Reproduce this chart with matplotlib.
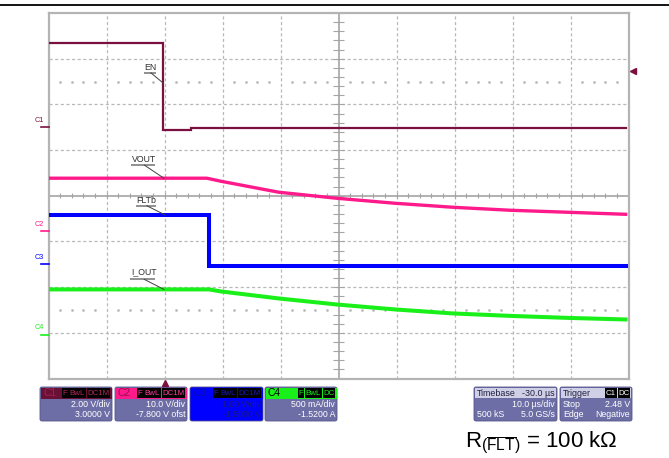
import matplotlib
matplotlib.use('Agg')
import matplotlib.pyplot as plt
import numpy as np
from matplotlib.patches import FancyBboxPatch, Rectangle

plt.rcParams['font.family'] = ['Liberation Sans', 'DejaVu Sans']
plt.rcParams['mathtext.fontset'] = 'custom'
plt.rcParams['mathtext.rm'] = 'Liberation Sans'
plt.rcParams['mathtext.it'] = 'Liberation Sans:italic'
plt.rcParams['mathtext.bf'] = 'Liberation Sans:bold'

# ---------------- data (time in us, channel values in their own units) ----------------
t_en = [-20, -0.3, -0.3, 4.5, 4.5, 79.5]
en_v = [3.69, 3.69, -0.12, -0.12, -0.04, -0.04]

t_vout = [-20, 7.3, 9.7, 19.7, 29.7, 39.7, 49.7, 59.7, 69.7, 79.5]
vout_v = [11.64, 11.64, 10.98, 8.57, 7.25, 6.16, 5.28, 4.62, 4.18, 3.74]

t_flt = [-20, 7.7, 7.7, 79.5]
flt_v = [1.08, 1.08, -0.04, -0.04]

t_iout = [-20, 7.7, 9.7, 19.7, 29.7, 39.7, 49.7, 59.7, 69.7, 79.5]
iout_a = [0.495, 0.495, 0.473, 0.396, 0.330, 0.276, 0.232, 0.205, 0.183, 0.166]

channels = ['C1', 'C2', 'C3', 'C4']
trace_names = ['EN', 'VOUT', 'FLTb', 'I_OUT']
scales = [2.0, 10.0, 1.0, 0.5]          # units / div
offsets = [3.0, -7.8, -1.5, -1.52]      # units
colors = ['#7a1040', '#ff1a8c', '#0000ff', '#19f019']
scale_txt = ['2.00 V/div', '10.0 V/div', '1.00 V/div', '500 mA/div']
offset_txt = ['3.0000 V', '-7.800 V ofst', '-1.5000 V', '-1.5200 A']
flags = [['F', 'BwL', 'DC1M'], ['F', 'BwL', 'DC1M'], ['F', 'BwL', 'DC1M'], ['F', 'BwL', 'DC']]
trig_level = 2.48
t_left, t_right = -20, 80
n_vdiv = 4

W, H = 669, 458
fig = plt.figure(figsize=(W / 100, H / 100), dpi=100)

# pixel overlay for decorations
pax = fig.add_axes([0, 0, 1, 1], zorder=0)
pax.set_xlim(0, W)
pax.set_ylim(H, 0)
pax.axis('off')

ax = fig.add_axes([48.5 / W, 1 - 378.5 / H, 580 / W, 365.5 / H], zorder=1)
ax.set_xlim(t_left, t_right)
ax.set_ylim(-n_vdiv, n_vdiv)
ax.patch.set_alpha(0)
ax.set_xticks([])
ax.set_yticks([])
for s in ax.spines.values():
    s.set_color('#b4b4b4')
    s.set_linewidth(1.6)

# grid
grid_c = '#b9b9b9'
for x in np.arange(t_left + 10, t_right, 10):
    if x == 30:
        continue
    ax.axvline(x, color=grid_c, lw=0.9, ls=(0, (2.5, 2.0)), zorder=1)
for y in range(-3, 4):
    if y == 0:
        continue
    ax.axhline(y, color=grid_c, lw=0.9, ls=(0, (2.5, 2.0)), zorder=1)
xc = (t_left + t_right) / 2
ax.axvline(xc, color='#a4a4a4', lw=1.2, zorder=1)
ax.axhline(0, color='#a4a4a4', lw=1.2, zorder=1)
mt = np.arange(t_left, t_right + 0.01, 2)
ax.vlines(mt, -0.06, 0.06, color='#a4a4a4', lw=0.8, zorder=1)
my = np.arange(-4, 4.01, 0.2)
ax.hlines(my, xc - 0.9, xc + 0.9, color='#a4a4a4', lw=0.8, zorder=1)
# dotted rows at +-2.5 div
dx = [x for x in np.arange(t_left, t_right, 2) if x % 10 != 0]
for yy in (2.5, -2.5):
    ax.plot(dx, [yy] * len(dx), ls='none', marker='s', ms=0.8, color='#b4b4b4', zorder=1)

# traces
series = [(t_en, en_v), (t_vout, vout_v), (t_flt, flt_v), (t_iout, iout_a)]
lws = [1.6, 2.4, 2.9, 2.9]
div_series = []
for i, (tt, vv) in enumerate(series):
    d = (np.array(vv) + offsets[i]) / scales[i]
    div_series.append((np.array(tt), d))
    ax.plot(tt, d, color=colors[i], lw=lws[i], zorder=3, solid_joinstyle='miter')

# trace labels with underline and leader to the trace at t=0
lab_x = [-3.5, -5.6, -4.9, -5.8]          # label left (us)
lab_up = [0.22, 0.285, 0.20, 0.22]        # underline height above leader end (div)
lab_w = [2.1, 3.9, 3.4, 4.2]
lead_x = [-0.26, -0.1, 0.1, -0.1]
txt_up = [0.06, 0.06, 0.06, 0.11]
for i, name in enumerate(trace_names):
    tt, d = div_series[i]
    y0 = 2.47 if i == 0 else np.interp(0, tt, d)
    lx = lab_x[i]
    yul = y0 + lab_up[i]
    ax.text(lx, yul + txt_up[i], name, fontsize=6.3, color='#303030', ha='left', va='baseline', zorder=6)
    ax.plot([lx - 0.1, lx + lab_w[i]], [yul, yul], color='#909090', lw=1.4, zorder=5, solid_capstyle='butt')
    ax.plot([lx + lab_w[i] * 0.55, lead_x[i]], [yul, y0], color='#404040', lw=0.7, zorder=5)

# channel ground markers on the left
ytr = ax.get_yaxis_transform()
for i, ch in enumerate(channels):
    g = offsets[i] / scales[i]
    ax.text(-0.0165, g + 0.07, ch, transform=ytr, fontsize=5.2, color=colors[i], ha='center', va='bottom',
            clip_on=False, zorder=5)
    ax.plot([-0.013, 0.0], [g, g], transform=ytr, color=colors[i], lw=1.2, clip_on=False, zorder=5)

# trigger markers
ax.plot([1.007], [(trig_level + offsets[0]) / scales[0]], transform=ytr, marker='<', ms=5,
        color=colors[0], clip_on=False, zorder=6)
ax.plot([0], [-0.013], transform=ax.get_xaxis_transform(), marker='^', ms=5, color=colors[0],
        clip_on=False, zorder=6)

# top rule
pax.plot([0, W], [5, 5], color='black', lw=1.3)

# ---------------- info boxes ----------------
body_c = '#6e6ea6'
y0b, y1b, yh = 387, 421, 398


def flag_boxes(xr, yc, items, tcol, bg='black'):
    x = xr
    for it in reversed(items):
        w = 6.2 if it == 'F' else 5.6 * len(it) + 1.5
        pax.add_patch(Rectangle((x - w, yc - 5), w - 0.8, 10, facecolor=bg, edgecolor='none', zorder=3))
        pax.text(x - w / 2 - 0.4, yc + 0.3, it, fontsize=5.7, color=tcol, ha='center', va='center', zorder=4)
        x -= w


box_x = [(40, 112), (115, 187), (190, 263), (265, 337)]
head_c = ['#6a0f35', '#ff1a8c', '#0000ff', '#19f019']
head_t = ['#a3244f', '#9a0a50', '#1010a0', '#000000']
flag_t = ['#b02a5a', '#ff3c9a', '#1a1ab0', '#19f019']
body_bg = [body_c, body_c, '#0000ff', body_c]
body_t = ['white', 'white', '#1a1a80', 'white']
for i in range(4):
    x0, x1 = box_x[i]
    pax.add_patch(FancyBboxPatch((x0, y0b), x1 - x0, y1b - y0b, boxstyle='round,pad=0,rounding_size=2',
                                 facecolor=body_bg[i], edgecolor='#55558a', lw=0.6, zorder=1))
    pax.add_patch(Rectangle((x0 + 0.5, y0b + 0.5), x1 - x0 - 1, yh - y0b, facecolor=head_c[i],
                            edgecolor='none', zorder=2))
    pax.text(x0 + 3, (y0b + yh) / 2 + 0.8, channels[i], fontsize=7.4, color=head_t[i], ha='left',
             va='center', zorder=4)
    flag_boxes(x1 - 1.5, (y0b + yh) / 2 + 0.5, flags[i], flag_t[i])
    pax.text(x1 - 2, 404.5, scale_txt[i], fontsize=6.3, color=body_t[i], ha='right', va='center', zorder=4)
    pax.text(x1 - 2, 414.5, offset_txt[i], fontsize=6.3, color=body_t[i], ha='right', va='center', zorder=4)

# timebase box
tb_x0, tb_x1 = 474, 557
pax.add_patch(FancyBboxPatch((tb_x0, y0b), tb_x1 - tb_x0, y1b - y0b, boxstyle='round,pad=0,rounding_size=2',
                             facecolor=body_c, edgecolor='#55558a', lw=0.6, zorder=1))
pax.add_patch(Rectangle((tb_x0 + 1, y0b + 1), tb_x1 - tb_x0 - 2, yh - y0b - 1, facecolor='#cfcfe6',
                        edgecolor='none', zorder=2))
pax.text(tb_x0 + 3, 393, 'Timebase', fontsize=6.4, color='#202040', ha='left', va='center', zorder=4)
pax.text(tb_x1 - 2, 393, '-30.0 µs', fontsize=6.4, color='#202040', ha='right', va='center', zorder=4)
pax.text(tb_x1 - 2, 404.5, '10.0 µs/div', fontsize=6.3, color='white', ha='right', va='center', zorder=4)
pax.text(tb_x0 + 3, 414.5, '500 kS', fontsize=6.3, color='white', ha='left', va='center', zorder=4)
pax.text(tb_x1 - 2, 414.5, '5.0 GS/s', fontsize=6.3, color='white', ha='right', va='center', zorder=4)

# trigger box
tr_x0, tr_x1 = 560, 632
pax.add_patch(FancyBboxPatch((tr_x0, y0b), tr_x1 - tr_x0, y1b - y0b, boxstyle='round,pad=0,rounding_size=2',
                             facecolor=body_c, edgecolor='#55558a', lw=0.6, zorder=1))
pax.add_patch(Rectangle((tr_x0 + 1, y0b + 1), tr_x1 - tr_x0 - 2, yh - y0b - 1, facecolor='#cfcfe6',
                        edgecolor='none', zorder=2))
pax.text(tr_x0 + 3, 393, 'Trigger', fontsize=6.4, color='#202040', ha='left', va='center', zorder=4)
flag_boxes(tr_x1 - 1.5, 393, ['C1', 'DC'], 'white')
pax.text(tr_x0 + 3, 404.5, 'Stop', fontsize=6.3, color='white', ha='left', va='center', zorder=4)
pax.text(tr_x1 - 2, 404.5, f'{trig_level:.2f} V', fontsize=6.3, color='white', ha='right', va='center', zorder=4)
pax.text(tr_x0 + 3, 414.5, 'Edge', fontsize=6.3, color='white', ha='left', va='center', zorder=4)
pax.text(tr_x1 - 2, 414.5, 'Negative', fontsize=6.3, color='white', ha='right', va='center', zorder=4)

# resistor annotation
pax.text(465, 447, r'$\mathrm{R}_{(\overline{\mathrm{FLT}})}$ = 100 kΩ', fontsize=16, color='black',
         ha='left', va='baseline', zorder=4)

fig.savefig('out.png', dpi=100)
